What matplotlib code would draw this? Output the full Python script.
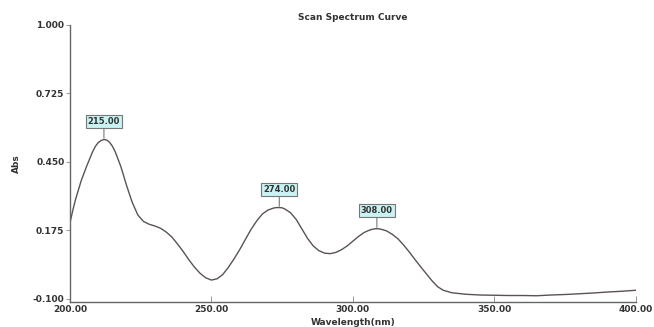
import matplotlib
matplotlib.use("Agg")
import matplotlib.pyplot as plt

# wavelength (nm) and absorbance
wavelength = [200, 201, 202, 204, 206, 208, 209, 210, 211, 212, 213, 214, 215, 216, 218,
              220, 222, 224, 226, 228, 230, 232, 234, 236, 238, 240, 242, 244, 246, 248,
              250, 252, 254, 256, 258, 260, 262, 264, 266, 268, 270, 272, 273, 274, 275,
              276, 278, 280, 282, 284, 286, 288, 290, 292, 294, 296, 298, 300, 302, 304,
              306, 307, 308, 309, 310, 312, 314, 316, 318, 320, 322, 324, 326, 328, 330,
              332, 335, 340, 345, 350, 355, 360, 365, 370, 375, 380, 385, 390, 395, 400]
absorbance = [0.205, 0.255, 0.3, 0.375, 0.435, 0.49, 0.512, 0.527, 0.535, 0.539, 0.537,
              0.528, 0.512, 0.49, 0.43, 0.355, 0.287, 0.236, 0.21, 0.199, 0.192, 0.183,
              0.168, 0.148, 0.12, 0.09, 0.057, 0.027, 0.002, -0.016, -0.025, -0.02,
              -0.003, 0.026, 0.06, 0.097, 0.138, 0.178, 0.212, 0.24, 0.256, 0.264, 0.266,
              0.266, 0.265, 0.26, 0.245, 0.218, 0.18, 0.142, 0.112, 0.093, 0.083, 0.081,
              0.086, 0.097, 0.112, 0.131, 0.15, 0.166, 0.176, 0.179, 0.181, 0.181, 0.179,
              0.172, 0.158, 0.14, 0.115, 0.087, 0.057, 0.028, 0.0, -0.028, -0.052, -0.066,
              -0.076, -0.082, -0.085, -0.086, -0.087, -0.087, -0.088, -0.085, -0.083,
              -0.08, -0.077, -0.073, -0.07, -0.066]

peak_x = [212, 274, 308.5]
peak_y = [0.539, 0.266, 0.181]
peak_labels = ["215.00", "274.00", "308.00"]

x_ticks = [200, 250, 300, 350, 400]
y_ticks = [-0.100, 0.175, 0.450, 0.725, 1.000]

fig = plt.figure(figsize=(6.54, 3.27), dpi=100)
ax = fig.add_axes([0.107, 0.0765, 0.865, 0.848])

ax.plot(wavelength, absorbance, color='#5c5254', linewidth=1.0)

for px, py, lab in zip(peak_x, peak_y, peak_labels):
    ax.annotate(lab, xy=(px, py), xytext=(0, 10), textcoords='offset points',
                ha='center', va='bottom', fontsize=6, fontweight='bold', color='#333333',
                bbox=dict(boxstyle='square,pad=0.25', facecolor='#c9f2f2', edgecolor='#777777', linewidth=0.8),
                arrowprops=dict(arrowstyle='-', color='#777777', linewidth=0.8, shrinkA=0, shrinkB=1))

ax.set_xlim(200, 400)
ax.set_ylim(-0.113, 1.0)
ax.set_xticks(x_ticks)
ax.set_xticklabels(["%.2f" % v for v in x_ticks])
ax.set_yticks(y_ticks)
ax.set_yticklabels(["%.3f" % v for v in y_ticks])
ax.tick_params(axis='x', direction='in', length=4, width=0.6, color='#888888',
               labelsize=6.5, labelcolor='#333333', pad=2)
ax.tick_params(axis='y', direction='out', length=3, width=0.6, color='#888888',
               labelsize=6.5, labelcolor='#333333', pad=1)
for lab in ax.get_xticklabels() + ax.get_yticklabels():
    lab.set_fontweight('bold')

for s in ['top', 'right']:
    ax.spines[s].set_visible(False)
for s in ['left', 'bottom']:
    ax.spines[s].set_color('#666666')
    ax.spines[s].set_linewidth(1.0)

fig.text(0.54, 0.947, "Scan Spectrum Curve", ha='center', va='center',
         fontsize=6.5, fontweight='bold', color='#333333')
fig.text(0.54, 0.013, "Wavelength(nm)", ha='center', va='center',
         fontsize=6.5, fontweight='bold', color='#333333')
fig.text(0.025, 0.50, "Abs", ha='center', va='center', rotation=90,
         fontsize=6.5, fontweight='bold', color='#333333')

fig.savefig("out.png", dpi=100)
